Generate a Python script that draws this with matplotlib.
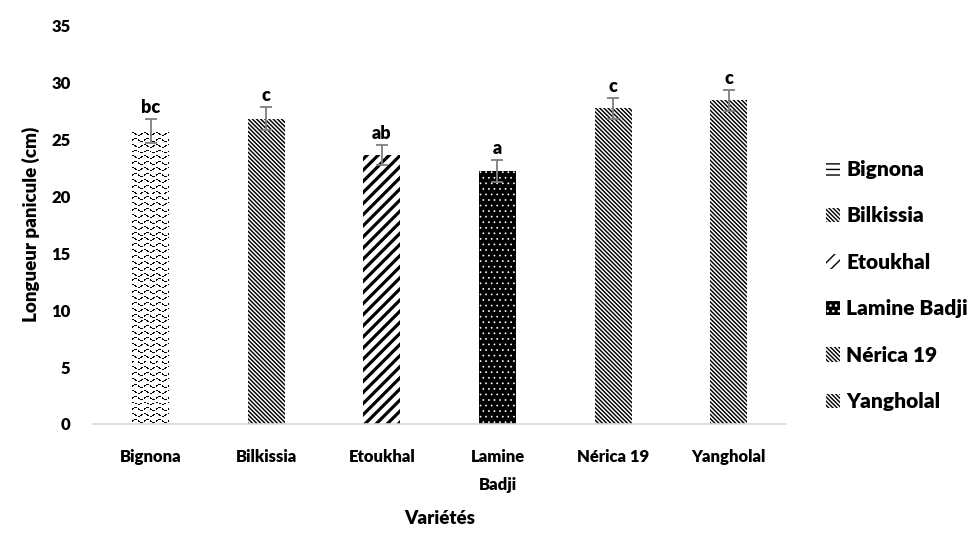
import numpy as np
import matplotlib
matplotlib.use("Agg")
import matplotlib.pyplot as plt
from matplotlib.patches import Patch

# Données : longueur moyenne de la panicule par variété
varietes = ["Bignona", "Bilkissia", "Etoukhal", "Lamine\nBadji", "Nérica 19", "Yangholal"]
noms_legende = ["Bignona", "Bilkissia", "Etoukhal", "Lamine Badji", "Nérica 19", "Yangholal"]
longueur = [25.7, 26.8, 23.6, 22.2, 27.7, 28.4]
erreur = [1.05, 1.0, 0.9, 0.95, 0.9, 0.9]
groupes = ["bc", "c", "ab", "a", "c", "c"]

plt.rcParams["font.family"] = ["Lato", "DejaVu Sans"]
plt.rcParams["font.weight"] = "heavy"
plt.rcParams["axes.labelweight"] = "heavy"

fig = plt.figure(figsize=(9.77, 5.34), dpi=100)
ax = fig.add_axes([0.095, 0.206, 0.71, 0.747])

x = np.arange(len(varietes))

# Motifs de remplissage (style noir et blanc)
faces = ["white", "white", "white", "black", "white", "white"]
hachures = [None, "\\" * 8, "/" * 3, "." * 3, "\\" * 8, "\\" * 8]
couleurs_hachure = ["black", "black", "black", "white", "black", "black"]
epaisseurs = [1.0, 1.05, 2.3, 0.5, 1.05, 1.05]

barres = []
for i in range(len(varietes)):
    with plt.rc_context({"hatch.linewidth": epaisseurs[i]}):
        b = ax.bar(x[i], longueur[i], width=0.32, color=faces[i], linewidth=0,
                   hatch=hachures[i], edgecolor=couleurs_hachure[i], zorder=2)
    barres.append(b[0])

# Motif ondulé pour Bignona : texture image découpée sur la barre
b0 = barres[0]
nl, nc = 300, 37
yy, xx = np.mgrid[0:nl, 0:nc]
onde = 2.5 + 1.3 * np.sin(2 * np.pi * (xx + 3 * (yy // 6 % 2)) / 12)
texture = np.where(np.abs((yy % 6) - onde) < 0.55, 0.0, 1.0)
texture[(xx % 6) == 5] = 1.0
im = ax.imshow(texture, cmap="gray", vmin=0, vmax=1, interpolation="nearest",
               extent=(b0.get_x(), b0.get_x() + b0.get_width(), 0, b0.get_height()),
               aspect="auto", origin="lower", zorder=2.5)
im.set_clip_path(b0)

ax.errorbar(x, longueur, yerr=erreur, fmt="none", ecolor="#7f7f7f",
            elinewidth=1.3, capsize=4.5, capthick=1.3, zorder=3)

for xi, v, e, g in zip(x, longueur, erreur, groupes):
    ax.annotate(g, (xi, v + e), xytext=(0, 2), textcoords="offset points",
                ha="center", va="bottom", fontsize=13)

ax.set_xlim(-0.5, len(varietes) - 0.5)
ax.set_ylim(0, 35)
ax.set_yticks(range(0, 36, 5))
ax.set_xticks(x)
ax.set_xticklabels(varietes, fontsize=12, linespacing=1.95)
ax.tick_params(axis="both", length=0, labelsize=12)
ax.tick_params(axis="x", pad=18)
ax.tick_params(axis="y", pad=16)

for s in ["top", "right", "left"]:
    ax.spines[s].set_visible(False)
ax.spines["bottom"].set_color("#d9d9d9")
ax.spines["bottom"].set_linewidth(1.2)

ax.set_ylabel("Longueur panicule (cm)", fontsize=13.5, labelpad=8)
ax.set_xlabel("Variétés", fontsize=13.5, labelpad=12)

# Légende : une entrée par variété
poignees = []
for i, nom in enumerate(noms_legende):
    if i == 0:
        p = Patch(facecolor="white", edgecolor="black", hatch="---", linewidth=0, label=nom)
    else:
        p = Patch(facecolor=faces[i], edgecolor=couleurs_hachure[i],
                  hatch=hachures[i], linewidth=0, label=nom)
    poignees.append(p)
fig.legend(handles=poignees, loc="center left", bbox_to_anchor=(0.845, 0.465),
           frameon=False, labelspacing=1.32, handlelength=0.7, borderpad=0,
           borderaxespad=0, handleheight=0.7, handletextpad=0.3,
           prop={"weight": "heavy", "size": 15})

plt.savefig("out.png", dpi=100)
